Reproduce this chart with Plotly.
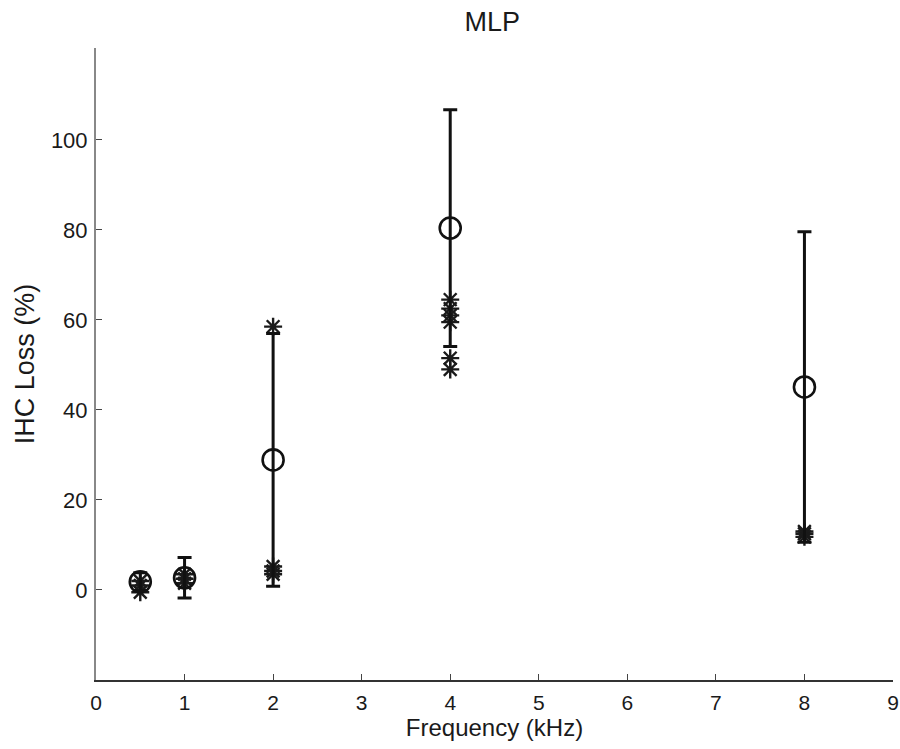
import plotly.graph_objects as go

# Data
freqs = [0.5, 1, 2, 4, 8]
mean_loss = [1.8, 2.7, 28.9, 80.4, 45.1]
err_loss = [2.0, 4.5, 28.1, 26.3, 34.5]

ind_freq = [0.5, 0.5, 0.5,
            1, 1, 1,
            2, 2, 2, 2,
            4, 4, 4, 4, 4, 4,
            8, 8, 8]
ind_loss = [-0.5, 1.0, 2.0,
            1.5, 2.5, 3.5,
            58.5, 5.2, 4.2, 3.5,
            64.5, 62.5, 61.0, 59.5, 51.5, 49.0,
            11.8, 12.5, 13.0]

x_ticks = list(range(0, 10))
y_ticks = [0, 20, 40, 60, 80, 100]

font_family = "Liberation Sans, Arial, sans-serif"

fig = go.Figure()

fig.add_trace(go.Scatter(
    x=ind_freq, y=ind_loss, mode="markers",
    marker=dict(symbol="asterisk-open", size=15, color="#1a1a1a",
                line=dict(color="#1a1a1a", width=2.4)),
    showlegend=False, hoverinfo="x+y",
))

fig.add_trace(go.Scatter(
    x=freqs, y=mean_loss, mode="markers",
    marker=dict(symbol="circle-open", size=21, color="#111111",
                line=dict(color="#111111", width=2.6)),
    error_y=dict(type="data", array=err_loss, visible=True,
                 color="#111111", thickness=3, width=7),
    showlegend=False, hoverinfo="x+y",
))

fig.update_layout(
    width=900, height=749,
    margin=dict(l=96, r=7, t=48, b=69, autoexpand=False),
    paper_bgcolor="white", plot_bgcolor="white",
    font=dict(family=font_family, size=20, color="#1a1a1a"),
    title=dict(text="MLP", x=0.547, xanchor="center", y=0.9706, yanchor="middle",
               font=dict(family=font_family, size=27, color="#1a1a1a")),
)

fig.update_xaxes(
    range=[0, 9], tickvals=x_ticks, ticktext=[str(t) for t in x_ticks],
    ticks="inside", ticklen=6, tickwidth=1.2, tickcolor="#444444",
    showline=True, linecolor="#333333", linewidth=2,
    showgrid=False, zeroline=False, automargin=False,
    ticklabelstandoff=3,
    title=dict(text="Frequency (kHz)", standoff=3,
               font=dict(family=font_family, size=24, color="#1a1a1a")),
    tickfont=dict(family=font_family, size=21, color="#1a1a1a"),
)

fig.update_yaxes(
    range=[-20, 120.4], tickvals=y_ticks, ticktext=[str(t) for t in y_ticks],
    ticks="inside", ticklen=6, tickwidth=1.2, tickcolor="#444444",
    showline=True, linecolor="#888888", linewidth=2,
    showgrid=False, zeroline=False, automargin=False,
    ticklabelstandoff=2,
    title=dict(text="IHC Loss (%)", standoff=8,
               font=dict(family=font_family, size=27, color="#1a1a1a")),
    tickfont=dict(family=font_family, size=22, color="#1a1a1a"),
)

fig.write_html("out.html")
